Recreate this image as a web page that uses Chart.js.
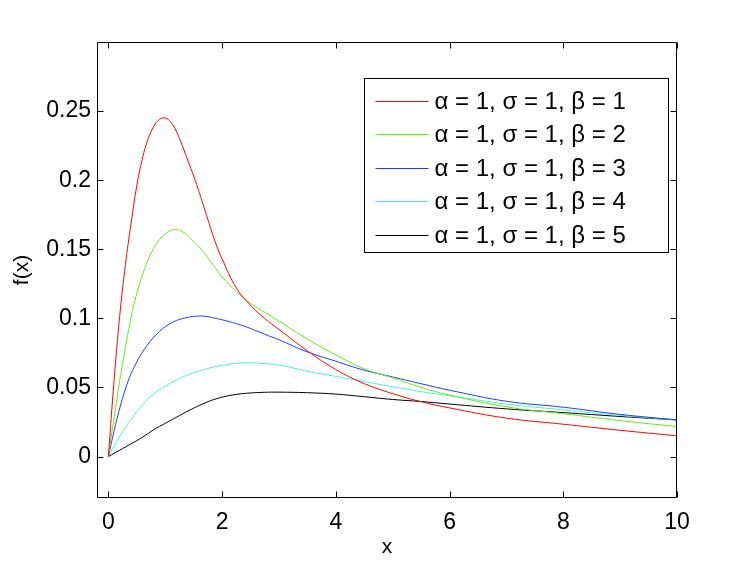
<!DOCTYPE html>
<html>
<head>
<meta charset="utf-8">
<script src="https://cdn.jsdelivr.net/npm/chart.js@4.4.1/dist/chart.umd.min.js"></script>
<style>
  html, body { margin: 0; padding: 0; background: #fff; }
  #wrap { width: 747px; height: 562px; }
</style>
</head>
<body>
<div id="wrap"><canvas id="pdfChart"></canvas></div>
<script>
const xs = [0, 0.1, 0.2, 0.3, 0.4, 0.5, 0.6, 0.7, 0.8, 0.9, 1, 1.1, 1.2, 1.3, 1.4, 1.5, 1.6, 1.7, 1.8, 1.9, 2,
            2.25, 2.5, 2.75, 3, 3.5, 4, 4.5, 5, 5.5, 6, 7, 8, 9, 10];

const beta1 = [0, 0.055, 0.102, 0.139, 0.169, 0.196, 0.216, 0.230, 0.239, 0.244, 0.245, 0.242, 0.235, 0.225, 0.214, 0.203, 0.191, 0.178, 0.165, 0.153, 0.143,
               0.122, 0.1095, 0.0999, 0.092, 0.0765, 0.063, 0.0528, 0.0455, 0.0397, 0.0352, 0.0278, 0.0234, 0.019, 0.015];
const beta2 = [0, 0.028, 0.055, 0.079, 0.101, 0.118, 0.1315, 0.1425, 0.151, 0.157, 0.161, 0.1637, 0.1643, 0.1628, 0.1597, 0.1553, 0.1513, 0.1465, 0.141, 0.1355, 0.130,
               0.1195, 0.111, 0.1045, 0.098, 0.085, 0.0735, 0.0635, 0.057, 0.050, 0.0445, 0.036, 0.031, 0.026, 0.0217];
const beta3 = [0, 0.0185, 0.035, 0.049, 0.060, 0.0685, 0.0755, 0.0815, 0.0865, 0.0905, 0.094, 0.0965, 0.0985, 0.0998, 0.1008, 0.1014, 0.1017, 0.1015, 0.1008, 0.0999, 0.099,
               0.0962, 0.0927, 0.0885, 0.0845, 0.0757, 0.069, 0.0625, 0.0576, 0.0527, 0.048, 0.040, 0.0357, 0.0305, 0.0265];
const beta4 = [0, 0.0075, 0.0146, 0.021, 0.027, 0.0325, 0.0375, 0.0418, 0.0455, 0.0485, 0.051, 0.0533, 0.0555, 0.0575, 0.0592, 0.0607, 0.062, 0.0632, 0.0643, 0.0652, 0.066,
               0.0675, 0.0679, 0.0672, 0.0663, 0.0617, 0.058, 0.0543, 0.0505, 0.047, 0.044, 0.038, 0.0338, 0.0298, 0.0265];
const beta5 = [0, 0.0023, 0.0046, 0.0069, 0.0092, 0.0115, 0.014, 0.0167, 0.0195, 0.0218, 0.024, 0.0263, 0.0285, 0.0308, 0.033, 0.035, 0.037, 0.0388, 0.0405, 0.0418, 0.043,
               0.045, 0.046, 0.0465, 0.0466, 0.0462, 0.0452, 0.0433, 0.0413, 0.0398, 0.038, 0.0345, 0.0318, 0.029, 0.0265];

const labels = ["α = 1, σ = 1, β = 1", "α = 1, σ = 1, β = 2", "α = 1, σ = 1, β = 3", "α = 1, σ = 1, β = 4", "α = 1, σ = 1, β = 5"];
const colors = ["rgb(255, 0, 0)", "rgb(100, 235, 20)", "rgb(30, 60, 255)", "rgb(70, 245, 215)", "rgb(0, 0, 0)"];

const xTicks = [0, 2, 4, 6, 8, 10];
const yTicks = [0, 0.05, 0.1, 0.15, 0.2, 0.25];

const FONT = "'Liberation Sans', Arial, sans-serif";

const series = [beta1, beta2, beta3, beta4, beta5];
const datasets = series.map((ys, i) => ({
    label: labels[i],
    data: xs.map((x, j) => ({ x: x, y: ys[j] })),
    borderColor: colors[i],
    borderWidth: 1,
    pointRadius: 0,
    fill: false,
    tension: 0.4
}));

// box round the plot, with inward ticks on all four sides
const frame = {
    id: "frame",
    afterDatasetsDraw(chart) {
        const { ctx, chartArea: a, scales } = chart;
        const L = Math.round(a.left) + 0.5, R = Math.round(a.right) - 0.5;
        const T = Math.round(a.top) + 0.5, B = Math.round(a.bottom) - 0.5;
        ctx.save();
        ctx.strokeStyle = "#000";
        ctx.lineWidth = 1;
        ctx.beginPath();
        ctx.rect(L, T, R - L, B - T);
        xTicks.forEach(v => {
            const p = Math.round(scales.x.getPixelForValue(v)) + 0.5;
            ctx.moveTo(p, B); ctx.lineTo(p, B - 6);
            ctx.moveTo(p, T); ctx.lineTo(p, T + 6);
        });
        yTicks.forEach(v => {
            const p = Math.round(scales.y.getPixelForValue(v)) + 0.5;
            ctx.moveTo(L, p); ctx.lineTo(L + 6, p);
            ctx.moveTo(R, p); ctx.lineTo(R - 6, p);
        });
        ctx.stroke();
        ctx.restore();
    }
};

// legend box in the upper right of the plot
const legendBox = {
    id: "legendBox",
    afterDraw(chart) {
        const { ctx, chartArea: a } = chart;
        const w = 304, h = 174;
        const left = Math.round(a.right) - 313 + 0.5;
        const top = Math.round(a.top) + 36 + 0.5;
        ctx.save();
        ctx.fillStyle = "#fff";
        ctx.fillRect(left, top, w, h);
        ctx.strokeStyle = "#000";
        ctx.lineWidth = 1;
        ctx.strokeRect(left, top, w, h);
        ctx.font = "24px " + FONT;
        ctx.textBaseline = "middle";
        chart.data.datasets.forEach((ds, i) => {
            const cy = Math.round(top + 22 + i * 33.5) + 0.5;
            ctx.strokeStyle = ds.borderColor;
            ctx.beginPath();
            ctx.moveTo(left + 11, cy);
            ctx.lineTo(left + 64, cy);
            ctx.stroke();
            ctx.fillStyle = "#000";
            ctx.fillText(ds.label, left + 70, cy + 1);
        });
        ctx.restore();
    }
};

new Chart(document.getElementById("pdfChart"), {
    type: "line",
    data: { datasets: datasets },
    plugins: [frame, legendBox],
    options: {
        responsive: true,
        maintainAspectRatio: false,
        animation: false,
        layout: { padding: { top: 42, right: 70, left: 0, bottom: 0 } },
        plugins: {
            legend: { display: false },
            tooltip: { enabled: false }
        },
        scales: {
            x: {
                type: "linear",
                min: -0.2,
                max: 10,
                afterBuildTicks: axis => { axis.ticks = xTicks.map(v => ({ value: v })); },
                afterFit: axis => { axis.height = 64; },
                grid: { display: false, drawTicks: false },
                border: { display: false },
                ticks: {
                    padding: 11,
                    color: "#000",
                    font: { family: FONT, size: 23 },
                    maxRotation: 0,
                    callback: v => String(v)
                },
                title: {
                    display: true,
                    text: "x",
                    color: "#000",
                    font: { family: FONT, size: 21 },
                    padding: { top: 0, bottom: 2 }
                }
            },
            y: {
                min: -0.03,
                max: 0.3,
                afterBuildTicks: axis => { axis.ticks = yTicks.map(v => ({ value: v })); },
                afterFit: axis => { axis.width = 97; },
                grid: { display: false, drawTicks: false },
                border: { display: false },
                ticks: {
                    padding: 6,
                    color: "#000",
                    font: { family: FONT, size: 23 },
                    callback: v => String(v)
                },
                title: {
                    display: true,
                    text: "f(x)",
                    color: "#000",
                    font: { family: FONT, size: 21 },
                    padding: { top: 10, bottom: 0 }
                }
            }
        }
    }
});
</script>
</body>
</html>
